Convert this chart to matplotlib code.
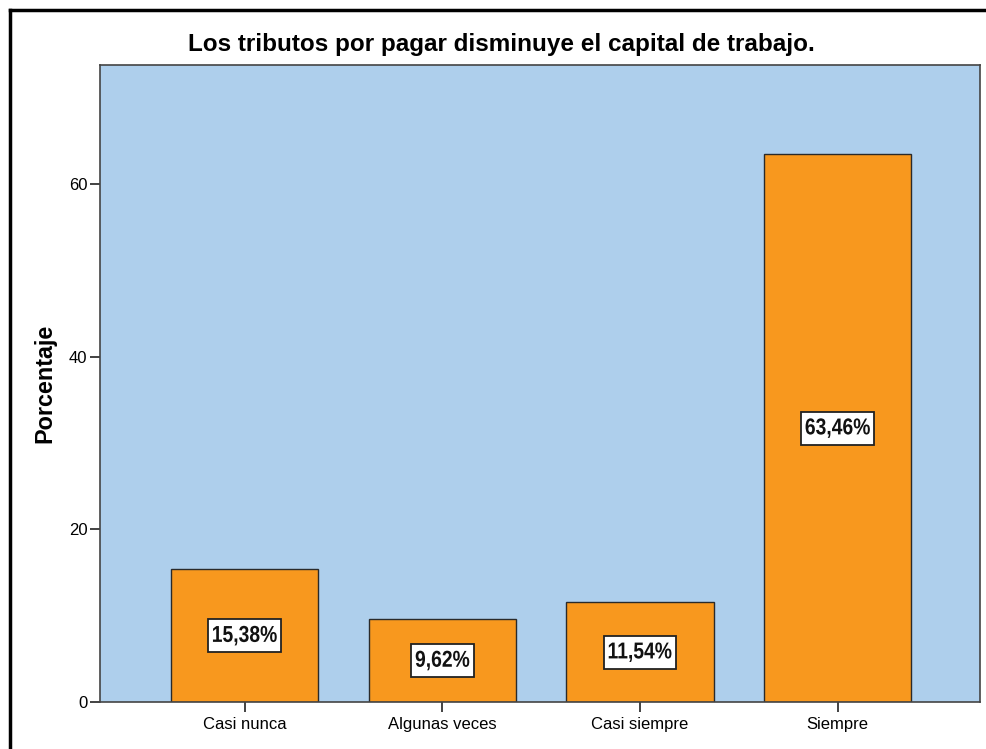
import matplotlib
matplotlib.use("Agg")
import matplotlib.pyplot as plt
from matplotlib.patches import Rectangle, PathPatch
from matplotlib.textpath import TextPath
from matplotlib.font_manager import FontProperties
from matplotlib import transforms

categories = ["Casi nunca", "Algunas veces", "Casi siempre", "Siempre"]
values = [15.38, 9.62, 11.54, 63.46]
labels = ["15,38%", "9,62%", "11,54%", "63,46%"]
yticks = [0, 20, 40, 60]

fig = plt.figure(figsize=(9.87, 7.49), dpi=100)
ax = fig.add_axes([100/987, 1-702/749, 880/987, 637/749])
ax.set_facecolor("#AECFEC")

x = list(range(len(categories)))
ax.bar(x, values, width=0.745, color="#F8981E", edgecolor="#2a2a2a", linewidth=1.0, zorder=2)

ax.set_xlim(-0.733, 3.72)
ax.set_ylim(0, 73.8)

# narrow bold labels in white boxes (condensed horizontally, like Arial Narrow)
fp = FontProperties(family="Liberation Sans", weight="bold")
em_px = 23.0
squeeze = 0.84
for xi, v, lab in zip(x, values, labels):
    tp = TextPath((0, 0), lab, size=em_px, prop=fp)
    bb = tp.get_extents()
    cx = (bb.x0 + bb.x1) / 2
    cy = (bb.y0 + bb.y1) / 2
    off = transforms.ScaledTranslation(xi, v / 2, ax.transData)
    ttrans = transforms.Affine2D().translate(-cx, -cy).scale(squeeze, 1.0) + off
    w = (bb.x1 - bb.x0) * squeeze + 9
    h = 33
    box = Rectangle((-w / 2, -h / 2), w, h, facecolor="white", edgecolor="#222222",
                    linewidth=1.3, transform=transforms.IdentityTransform() + off, zorder=3)
    ax.add_artist(box)
    ax.add_artist(PathPatch(tp, facecolor="#111111", edgecolor="none", transform=ttrans, zorder=4))

ax.set_xticks(x)
ax.set_xticklabels(categories, fontsize=12, family="Liberation Sans")
ax.set_yticks(yticks)
ax.set_yticklabels([str(t) for t in yticks], fontsize=12, family="Liberation Sans")
ax.tick_params(axis="both", direction="out", length=7.5, width=1.2, color="#222222", pad=1.5)
ax.tick_params(axis="x", pad=3.5)
for s in ax.spines.values():
    s.set_color("#444444")
    s.set_linewidth(1.2)

fig.text(45/987, 1-383/749, "Porcentaje", rotation=90, ha="center", va="center",
         fontsize=16.8, fontweight="bold", family="Liberation Sans")
fig.text(501/987, 1-45/749, "Los tributos por pagar disminuye el capital de trabajo.",
         ha="center", va="center", fontsize=17.5, fontweight="bold", family="Liberation Sans")

# figure border (left and top visible)
fig.add_artist(plt.Line2D([9.5/987, 9.5/987], [0, 1-9.5/749], transform=fig.transFigure, color="black", linewidth=2.5))
fig.add_artist(plt.Line2D([9.5/987, 1], [1-9.5/749, 1-9.5/749], transform=fig.transFigure, color="black", linewidth=2.5))

fig.savefig("out.png", dpi=100)
